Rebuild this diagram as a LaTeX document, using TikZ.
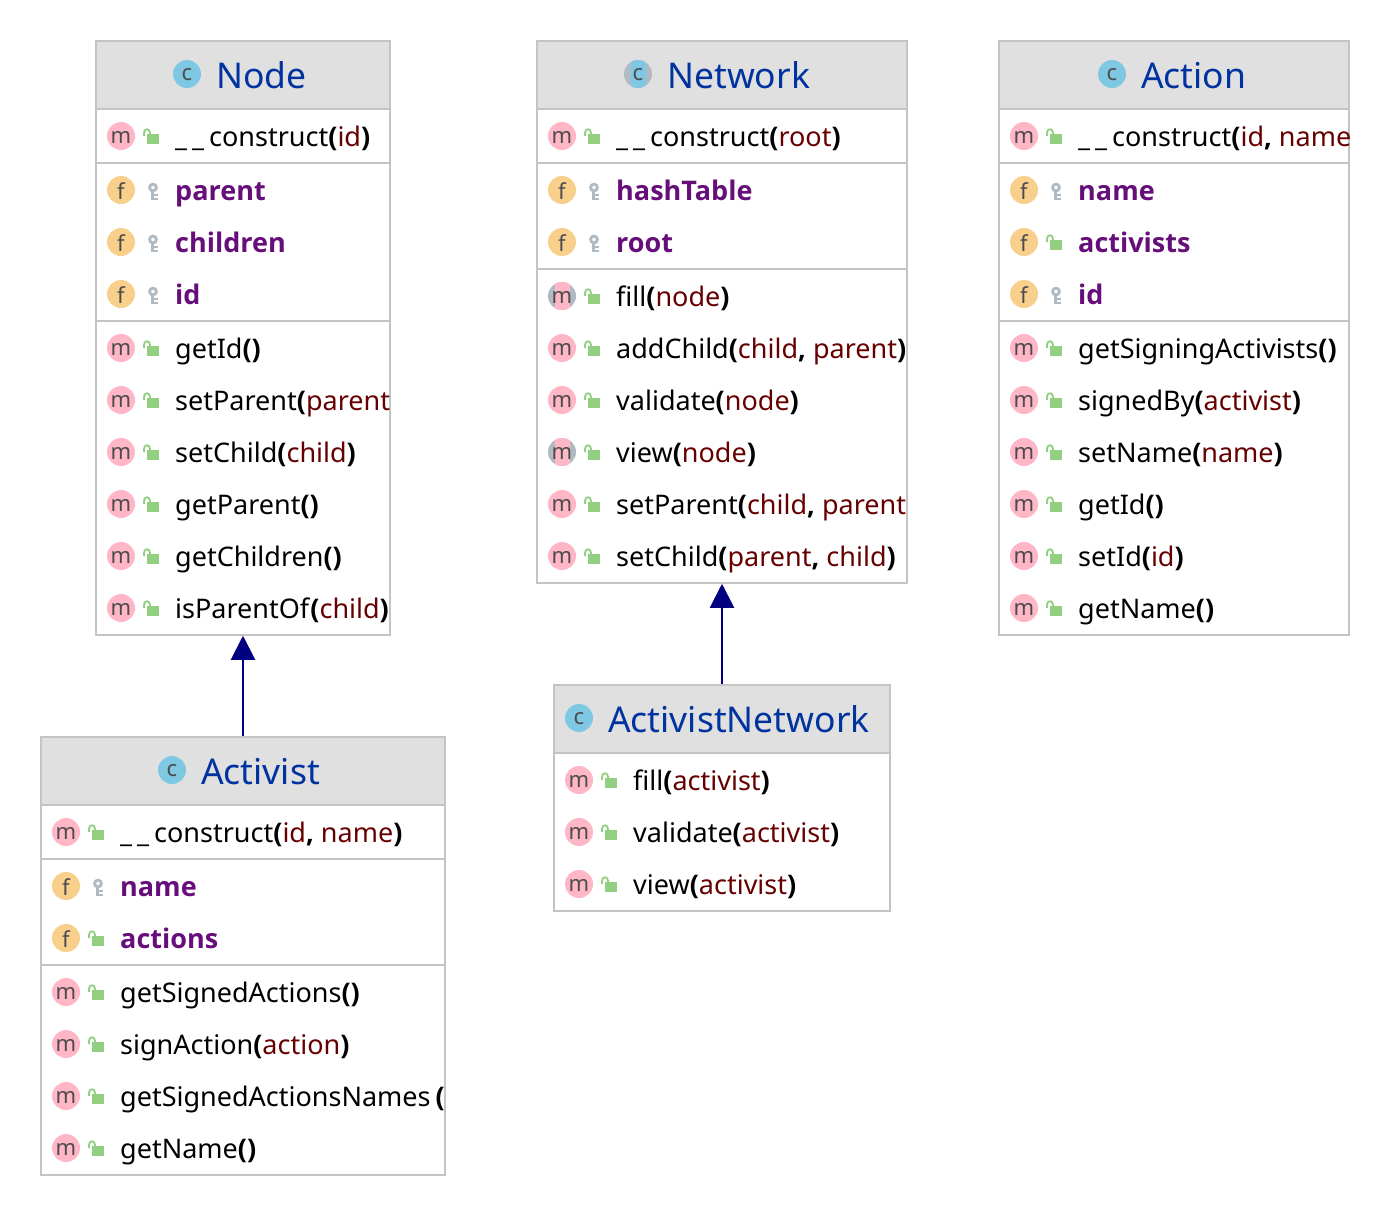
\documentclass[tikz,border=0pt]{standalone}
\usepackage{fontspec}
\setmainfont[BoldFont={Open Sans Bold}]{Noto Sans}
\usepackage{xcolor}
\usetikzlibrary{arrows.meta, positioning}

\definecolor{classblue}{HTML}{0033A0}
\definecolor{fieldpurple}{HTML}{660E7A}
\definecolor{paramred}{HTML}{660000}
\definecolor{boxline}{HTML}{C4C4C4}
\definecolor{headgray}{HTML}{E0E0E0}
\definecolor{mpink}{HTML}{FFB6C6}
\definecolor{forange}{HTML}{F9CF8C}
\definecolor{cblue}{HTML}{7EC8E3}
\definecolor{absgray}{HTML}{B0BAC2}
\definecolor{lockgreen}{HTML}{92CF80}
\definecolor{keygray}{HTML}{B0BAC2}
\definecolor{arrownavy}{HTML}{000080}

% text helpers
\newcommand{\pp}[1]{\textbf{#1}}
\newcommand{\pa}[1]{\textcolor{paramred}{#1}}
\newcommand{\fld}[1]{\textcolor{fieldpurple}{\textbf{#1}}}
\newcommand{\uu}{\_\kern5pt\_\kern5pt}

% one line of a class box: icon style, letter, pic, name, box left, y, text
\newcommand{\memberrow}[7]{%
  \node[#1] (#4-icon) at ([xshift=25pt]#5,#6) {#2};
  \pic at ([xshift=55pt]#5,#6) {#3};
  \node[rowtext] (#4) at ([xshift=79pt,yshift=-10pt]#5,#6) {#7};
}

\begin{document}
\begin{tikzpicture}[
    x=1pt, y=-1pt,
    classbox/.style={rectangle, draw=boxline, line width=1.5pt, fill=white, inner sep=0pt},
    headbox/.style={classbox, fill=headgray},
    sepline/.style={draw=boxline, line width=2pt},
    baseicon/.style={circle, minimum size=28pt, inner sep=0pt, text=black!70, text depth=0pt, font=\fontsize{22}{24}\selectfont},
    methodicon/.style={baseicon, fill=mpink, text height=14pt},
    fieldicon/.style={baseicon, fill=forange, text height=18pt},
    classicon/.style={baseicon, fill=cblue, text height=12pt},
    rowtext/.style={anchor=base west, inner sep=0pt, font=\fontsize{27}{30}\selectfont},
    titletext/.style={anchor=base west, inner sep=0pt, text=classblue, font=\fontsize{35.5}{40}\selectfont},
    inherit/.style={draw=arrownavy, line width=2pt, -{Triangle[length=24pt,width=24pt,fill=arrownavy]}},
    lockicon/.pic={
      \fill[lockgreen] (-4,-2) rectangle (8,8);
      \draw[lockgreen, line width=1.8pt] (-7,0) -- (-7,-3) .. controls (-7,-8) and (-1,-8) .. (-1,-3) -- (-1,-1);
    },
    keyicon/.pic={
      \draw[keygray, line width=2.8pt] (2,-2.5) circle (3.4);
      \draw[keygray, line width=2.8pt] (1.8,0) -- (1.8,10);
      \draw[keygray, line width=2.2pt] (2,5.2) -- (6.5,5.2);
      \draw[keygray, line width=2.2pt] (2,8.8) -- (6.5,8.8);
    },
    pics/absring/.style={code={
      \fill[absgray] (0,0) circle (14);
      \begin{scope}
      \clip (0,0) circle (14);
      \fill[#1] (-7.5,-15) rectangle (7.5,15);
      \end{scope}
    }},
]
\useasboundingbox (0,0) rectangle (1390,1216);

% Node class
\node[classbox, minimum width=294pt, minimum height=594pt] (node) at (243,338) {};
\node[headbox, minimum width=294pt, minimum height=68pt] (nodeHead) at (243,75) {};
\draw[sepline] (96,163) -- (390,163);
\draw[sepline] (96,321) -- (390,321);
\node[classicon] (nodeIcon) at (187,74) {c};
\node[titletext] (nodeTitle) at (216,88) {Node};
\begin{scope}
\clip (96,110) rectangle (390,635);
\memberrow{methodicon}{m}{lockicon}{nodeConstruct}{96}{136}{\uu construct\pp{(}\pa{id}\pp{)}}
\memberrow{fieldicon}{f}{keyicon}{nodeParent}{96}{190}{\fld{parent}}
\memberrow{fieldicon}{f}{keyicon}{nodeChildren}{96}{242}{\fld{children}}
\memberrow{fieldicon}{f}{keyicon}{nodeId}{96}{294}{\fld{id}}
\memberrow{methodicon}{m}{lockicon}{nodeGetId}{96}{348}{getId\pp{()}}
\memberrow{methodicon}{m}{lockicon}{nodeSetParent}{96}{400}{setParent\pp{(}\pa{parent}}
\memberrow{methodicon}{m}{lockicon}{nodeSetChild}{96}{452}{setChild\pp{(}\pa{child}\pp{)}}
\memberrow{methodicon}{m}{lockicon}{nodeGetParent}{96}{504}{getParent\pp{()}}
\memberrow{methodicon}{m}{lockicon}{nodeGetChildren}{96}{556}{getChildren\pp{()}}
\memberrow{methodicon}{m}{lockicon}{nodeIsParentOf}{96}{608}{isParentOf\pp{(}\pa{child}\pp{)}}
\end{scope}

% Network class
\node[classbox, minimum width=370pt, minimum height=542pt] (network) at (722,312) {};
\node[headbox, minimum width=370pt, minimum height=68pt] (networkHead) at (722,75) {};
\draw[sepline] (537,163) -- (907,163);
\draw[sepline] (537,269) -- (907,269);
\pic at (638,74) {absring=cblue};
\node[baseicon, text height=12pt] (networkIcon) at (638,74) {c};
\node[titletext] (networkTitle) at (667,88) {Network};
\begin{scope}
\clip (537,110) rectangle (907,583);
\memberrow{methodicon}{m}{lockicon}{netConstruct}{537}{136}{\uu construct\pp{(}\pa{root}\pp{)}}
\memberrow{fieldicon}{f}{keyicon}{netHashTable}{537}{190}{\fld{hashTable}}
\memberrow{fieldicon}{f}{keyicon}{netRoot}{537}{242}{\fld{root}}
\pic at (562,296) {absring=mpink};
\memberrow{baseicon, text height=14pt}{m}{lockicon}{netFill}{537}{296}{fill\pp{(}\pa{node}\pp{)}}
\memberrow{methodicon}{m}{lockicon}{netAddChild}{537}{348}{addChild\pp{(}\pa{child}\pp{,} \pa{parent}\pp{)}}
\memberrow{methodicon}{m}{lockicon}{netValidate}{537}{400}{validate\pp{(}\pa{node}\pp{)}}
\pic at (562,452) {absring=mpink};
\memberrow{baseicon, text height=14pt}{m}{lockicon}{netView}{537}{452}{view\pp{(}\pa{node}\pp{)}}
\memberrow{methodicon}{m}{lockicon}{netSetParent}{537}{504}{setParent\pp{(}\pa{child}\pp{,} \pa{parent}}
\memberrow{methodicon}{m}{lockicon}{netSetChild}{537}{556}{setChild\pp{(}\pa{parent}\pp{,} \pa{child}\pp{)}}
\end{scope}

% Action class
\node[classbox, minimum width=350pt, minimum height=594pt] (action) at (1174,338) {};
\node[headbox, minimum width=350pt, minimum height=68pt] (actionHead) at (1174,75) {};
\draw[sepline] (999,163) -- (1349,163);
\draw[sepline] (999,321) -- (1349,321);
\node[classicon] (actionIcon) at (1112,74) {c};
\node[titletext] (actionTitle) at (1141,88) {Action};
\begin{scope}
\clip (999,110) rectangle (1349,635);
\memberrow{methodicon}{m}{lockicon}{actConstruct}{999}{136}{\uu construct\pp{(}\pa{id}\pp{,} \pa{name}}
\memberrow{fieldicon}{f}{keyicon}{actName}{999}{190}{\fld{name}}
\memberrow{fieldicon}{f}{lockicon}{actActivists}{999}{242}{\fld{activists}}
\memberrow{fieldicon}{f}{keyicon}{actId}{999}{294}{\fld{id}}
\memberrow{methodicon}{m}{lockicon}{actGetSigning}{999}{348}{getSigningActivists\pp{()}}
\memberrow{methodicon}{m}{lockicon}{actSignedBy}{999}{400}{signedBy\pp{(}\pa{activist}\pp{)}}
\memberrow{methodicon}{m}{lockicon}{actSetName}{999}{452}{setName\pp{(}\pa{name}\pp{)}}
\memberrow{methodicon}{m}{lockicon}{actGetId}{999}{504}{getId\pp{()}}
\memberrow{methodicon}{m}{lockicon}{actSetId}{999}{556}{setId\pp{(}\pa{id}\pp{)}}
\memberrow{methodicon}{m}{lockicon}{actGetName}{999}{608}{getName\pp{()}}
\end{scope}

% Activist class
\node[classbox, minimum width=404pt, minimum height=438pt] (activist) at (243,956) {};
\node[headbox, minimum width=404pt, minimum height=68pt] (activistHead) at (243,771) {};
\draw[sepline] (41,859) -- (445,859);
\draw[sepline] (41,965) -- (445,965);
\node[classicon] (activistIcon) at (172,770) {c};
\node[titletext] (activistTitle) at (201,784) {Activist};
\begin{scope}
\clip (41,806) rectangle (445,1175);
\memberrow{methodicon}{m}{lockicon}{avConstruct}{41}{832}{\uu construct\pp{(}\pa{id}\pp{,} \pa{name}\pp{)}}
\memberrow{fieldicon}{f}{keyicon}{avName}{41}{886}{\fld{name}}
\memberrow{fieldicon}{f}{lockicon}{avActions}{41}{938}{\fld{actions}}
\memberrow{methodicon}{m}{lockicon}{avGetSigned}{41}{992}{getSignedActions\pp{()}}
\memberrow{methodicon}{m}{lockicon}{avSignAction}{41}{1044}{signAction\pp{(}\pa{action}\pp{)}}
\memberrow{methodicon}{m}{lockicon}{avGetNames}{41}{1096}{getSignedActionsNames\kern5pt\pp{(}}
\memberrow{methodicon}{m}{lockicon}{avGetName}{41}{1148}{getName\pp{()}}
\end{scope}

% ActivistNetwork class
\node[classbox, minimum width=336pt, minimum height=226pt] (activistNet) at (722,798) {};
\node[headbox, minimum width=336pt, minimum height=68pt] (activistNetHead) at (722,719) {};
\draw[sepline] (554,753) -- (890,753);
\node[classicon] (activistNetIcon) at (579,718) {c};
\node[titletext] (activistNetTitle) at (608,732) {ActivistNetwork};
\begin{scope}
\clip (554,754) rectangle (890,911);
\memberrow{methodicon}{m}{lockicon}{anFill}{554}{780}{fill\pp{(}\pa{activist}\pp{)}}
\memberrow{methodicon}{m}{lockicon}{anValidate}{554}{832}{validate\pp{(}\pa{activist}\pp{)}}
\memberrow{methodicon}{m}{lockicon}{anView}{554}{884}{view\pp{(}\pa{activist}\pp{)}}
\end{scope}

% Inheritance arrows
\draw[inherit] (activist.north) -- (node.south);
\draw[inherit] (activistNet.north) -- (network.south);

\end{tikzpicture}
\end{document}
